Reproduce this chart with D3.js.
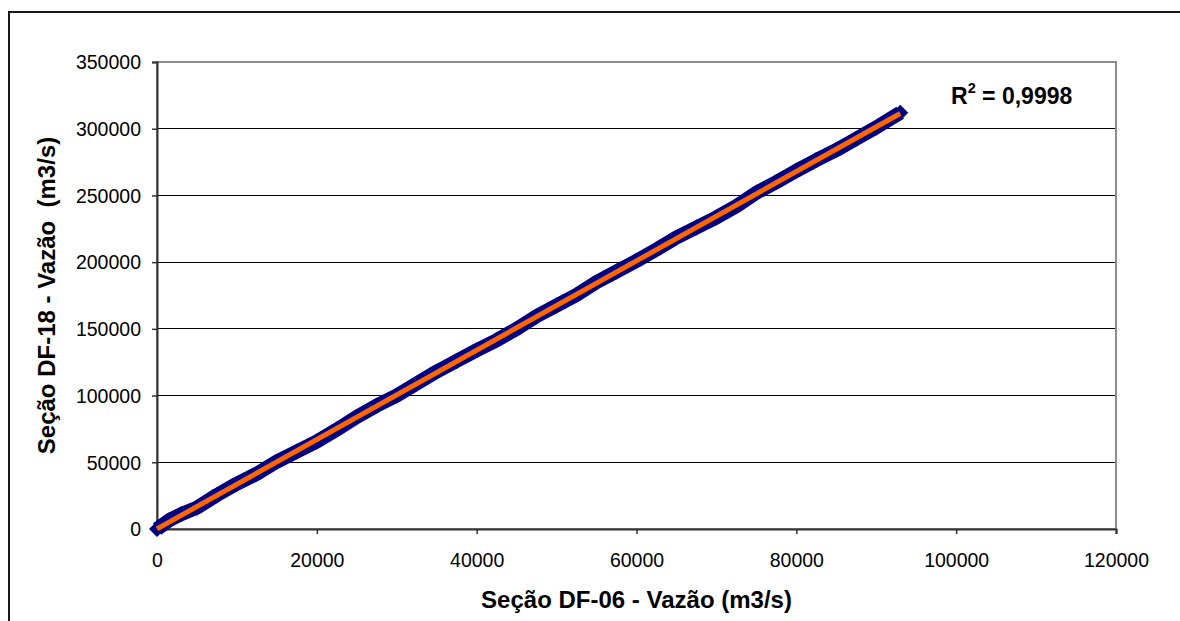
<!DOCTYPE html>
<html>
<head>
<meta charset="utf-8">
<script src="https://cdn.jsdelivr.net/npm/d3@7"></script>
<style>
  html, body { margin: 0; padding: 0; background: #fff; }
  svg { display: block; font-family: "Liberation Sans", Arial, sans-serif; }
</style>
</head>
<body>
<svg id="chart" width="1180" height="621"></svg>
<script>
// ---- data ----
const vazaoDF06 = [0, 1500, 3000, 5000, 7500, 10000, 12500, 15000, 17500, 20000,
  22500, 25000, 27500, 30000, 32500, 35000, 37500, 40000, 42500, 45000,
  47500, 50000, 52500, 55000, 57500, 60000, 62500, 65000, 67500, 70000,
  72500, 75000, 77500, 80000, 82500, 85000, 87500, 90000, 93000];
const vazaoDF18 = [0, 6500, 11000, 16000, 25500, 34000, 41500, 50500, 58000, 65500,
  74500, 84000, 92500, 100000, 109000, 118000, 126000, 134000, 141500, 150000,
  159500, 167500, 175500, 185000, 193000, 201000, 209500, 218500, 226000, 233500,
  242000, 252000, 260000, 268500, 276500, 284000, 292500, 301000, 312000];
const xTicks = [0, 20000, 40000, 60000, 80000, 100000, 120000];
const yTicks = [0, 50000, 100000, 150000, 200000, 250000, 300000, 350000];
const r2Label = "0,9998";
const xTitle = "Seção DF-06 - Vazão (m3/s)";
const yTitle = "Seção DF-18 - Vazão  (m3/s)";

// ---- layout ----
const svg = d3.select("#chart");
const L = 157, R = 1116, T = 62, B = 529;
const x = d3.scaleLinear().domain([0, 120000]).range([L, R]);
const y = d3.scaleLinear().domain([0, 350000]).range([B, T]);

// outer chart frame
svg.append("rect").attr("x", 9).attr("y", 12).attr("width", 1200).attr("height", 700)
  .attr("fill", "none").attr("stroke", "#1a1a1a").attr("stroke-width", 2);

// gridlines
svg.append("g").selectAll("line").data(yTicks.filter(d => d > 0 && d < 350000)).join("line")
  .attr("x1", L).attr("x2", R).attr("y1", d => y(d)).attr("y2", d => y(d))
  .attr("stroke", "#000").attr("stroke-width", 1).attr("shape-rendering", "crispEdges");

// plot area border (gray)
svg.append("rect").attr("x", L).attr("y", T).attr("width", R - L).attr("height", B - T)
  .attr("fill", "none").attr("stroke", "#8c8c8c").attr("stroke-width", 2);

// axes
const fmt = d3.format("d");
const yAxis = svg.append("g").attr("transform", `translate(${L},0)`)
  .call(d3.axisLeft(y).tickValues(yTicks).tickFormat(fmt).tickSize(5).tickPadding(11));
const xAxis = svg.append("g").attr("transform", `translate(0,${B})`)
  .call(d3.axisBottom(x).tickValues(xTicks).tickFormat(fmt).tickSize(5).tickPadding(19));
[yAxis, xAxis].forEach(g => {
  g.select(".domain").attr("stroke", "#333").attr("stroke-width", 2);
  g.selectAll(".tick line").attr("stroke", "#333").attr("stroke-width", 1.5);
  g.selectAll(".tick text").attr("fill", "#000").style("font-size", "19.5px")
    .style("font-family", '"Liberation Sans", Arial, sans-serif');
});
yAxis.selectAll(".tick text").attr("dy", "0.35em");

// data series
const pts = vazaoDF06.map((v, i) => [v, vazaoDF18[i]]);
const line = d3.line().x(d => x(d[0])).y(d => y(d[1]));
svg.append("path").datum(pts).attr("d", line)
  .attr("fill", "none").attr("stroke", "#000080").attr("stroke-width", 14)
  .attr("stroke-linejoin", "round");
const h = 8;
svg.append("g").selectAll("path").data(pts).join("path")
  .attr("d", d => `M${x(d[0])},${y(d[1]) - h}L${x(d[0]) + h},${y(d[1])}L${x(d[0])},${y(d[1]) + h}L${x(d[0]) - h},${y(d[1])}Z`)
  .attr("fill", "#000080");

// linear trend line (least squares of the series)
const mx = d3.mean(vazaoDF06), my = d3.mean(vazaoDF18);
const slope = d3.sum(pts, d => (d[0] - mx) * (d[1] - my)) / d3.sum(pts, d => (d[0] - mx) ** 2);
const icpt = my - slope * mx;
const xExt = d3.extent(vazaoDF06);
svg.append("line")
  .attr("x1", x(xExt[0])).attr("y1", y(icpt + slope * xExt[0]))
  .attr("x2", x(xExt[1])).attr("y2", y(icpt + slope * xExt[1]))
  .attr("stroke", "#ff6600").attr("stroke-width", 5);

// R² label
const rt = svg.append("text").attr("x", 951).attr("y", 104)
  .style("font-size", "23px").style("font-weight", "bold").attr("fill", "#000");
rt.append("tspan").text("R");
rt.append("tspan").attr("dy", -11).style("font-size", "14.5px").text("2");
rt.append("tspan").attr("dy", 11).text(" = " + r2Label);

// axis titles
svg.append("text").attr("x", (L + R) / 2).attr("y", 608).attr("text-anchor", "middle")
  .style("font-size", "24px").style("font-weight", "bold").text(xTitle);
svg.append("text").attr("transform", `translate(55,${(T + B) / 2}) rotate(-90)`)
  .attr("text-anchor", "middle").style("white-space", "pre")
  .style("font-size", "24px").style("font-weight", "bold").text(yTitle);
</script>
</body>
</html>
